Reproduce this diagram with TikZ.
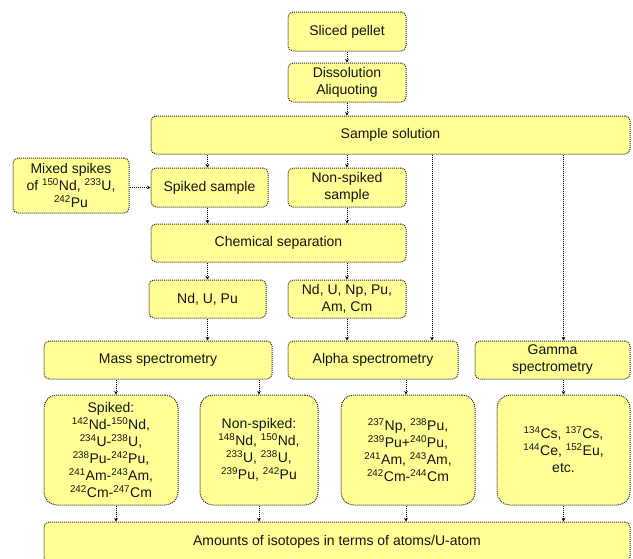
\documentclass[tikz,border=0pt]{standalone}
\usepackage{fontspec}
\setmainfont{Liberation Sans}
\usetikzlibrary{arrows.meta}
\definecolor{boxfill}{RGB}{255,255,150}
\definecolor{boxline}{RGB}{40,40,40}
\definecolor{txt}{RGB}{20,20,20}
\newcommand{\iso}[2]{\textsuperscript{#1}#2}
\tikzset{
  boxa/.style={draw=boxline, fill=boxfill, densely dotted, line width=1pt,
    rounded corners=5pt, inner sep=0pt, align=center, text=txt,
    font=\fontsize{14pt}{17pt}\selectfont},
  boxb/.style={boxa, rounded corners=13pt},
  conn/.style={draw=black, densely dotted, line width=1pt,
    -{Stealth[length=3.5pt,width=3.5pt]}},
}
\begin{document}
\begin{tikzpicture}[x=1pt,y=-1pt]
\useasboundingbox (0,0) rectangle (633,558);
\clip (0,0) rectangle (633,558);
\node[boxa, minimum width=118pt, minimum height=39pt] (pellet) at (347,31.5) {Sliced pellet};
\node[boxa, minimum width=118pt, minimum height=39pt] (dissol) at (347,82.5) {Dissolution\\Aliquoting};
\node[boxa, minimum width=479pt, minimum height=38pt] (sample) at (390.5,135) {Sample solution};
\node[boxa, minimum width=116pt, minimum height=55pt] (mixed) at (71,185.5) {Mixed spikes\\of \iso{150}{Nd}, \iso{233}{U},\\\iso{242}{Pu}};
\node[boxa, minimum width=117pt, minimum height=39pt] (spiked) at (209.5,187.5) {Spiked sample};
\node[boxa, minimum width=118pt, minimum height=39pt] (nonspiked) at (347,187.5) {Non-spiked\\sample};
\node[boxa, minimum width=255pt, minimum height=38pt] (chemsep) at (278.5,243) {Chemical separation};
\node[boxa, minimum width=117pt, minimum height=38pt] (ndupu) at (207.5,299) {Nd, U, Pu};
\node[boxa, minimum width=118pt, minimum height=38pt] (ndunp) at (347,299) {Nd, U, Np, Pu,\\Am, Cm};
\node[boxa, minimum width=228pt, minimum height=38pt] (mass) at (158,360) {Mass spectrometry};
\node[boxa, minimum width=170pt, minimum height=38pt] (alpha) at (373,360) {Alpha spectrometry};
\node[boxa, minimum width=155pt, minimum height=38pt] (gamma) at (552.5,360) {Gamma\\spectrometry};
\node[boxb, minimum width=134pt, minimum height=110pt] (bspiked) at (111,450) {Spiked:\\\iso{142}{Nd}-\iso{150}{Nd},\\\iso{234}{U}-\iso{238}{U},\\\iso{238}{Pu}-\iso{242}{Pu},\\\iso{241}{Am}-\iso{243}{Am},\\\iso{242}{Cm}-\iso{247}{Cm}};
\node[boxb, minimum width=118pt, minimum height=110pt] (bnon) at (259,450) {Non-spiked:\\\iso{148}{Nd}, \iso{150}{Nd},\\\iso{233}{U}, \iso{238}{U},\\\iso{239}{Pu}, \iso{242}{Pu}};
\node[boxb, minimum width=134pt, minimum height=110pt] (balpha) at (408,450) {\iso{237}{Np}, \iso{238}{Pu},\\\iso{239}{Pu}+\iso{240}{Pu},\\\iso{241}{Am}, \iso{243}{Am},\\\iso{242}{Cm}-\iso{244}{Cm}};
\node[boxb, minimum width=133pt, minimum height=110pt] (bgamma) at (563.5,450) {\iso{134}{Cs}, \iso{137}{Cs},\\\iso{144}{Ce}, \iso{152}{Eu},\\etc.};
\node[boxa, minimum width=586pt, minimum height=40pt] (amounts) at (337,542) {Amounts of isotopes in terms of atoms/U-atom};
% connectors
\draw[conn] (pellet.south) -- (dissol.north);
\draw[conn] (dissol.south) -- (dissol.south |- sample.north);
\draw[conn] ([xshift=-2pt]spiked.north |- sample.south) -- ([xshift=-2pt]spiked.north);
\draw[conn] (nonspiked.north |- sample.south) -- (nonspiked.north);
\draw[conn] ([xshift=59pt]alpha.north |- sample.south) -- ([xshift=59pt]alpha.north);
\draw[conn] (bgamma.north |- sample.south) -- (bgamma.north |- gamma.north);
\draw[conn] (mixed.east |- spiked.west) -- (spiked.west);
\draw[conn] ([xshift=-2pt]spiked.south) -- ([xshift=-2pt]spiked.south |- chemsep.north);
\draw[conn] (nonspiked.south) -- (nonspiked.south |- chemsep.north);
\draw[conn] (ndupu.north |- chemsep.south) -- (ndupu.north);
\draw[conn] (ndunp.north |- chemsep.south) -- (ndunp.north);
\draw[conn] (ndupu.south) -- (ndupu.south |- mass.north);
\draw[conn] (ndunp.south) -- (ndunp.south |- alpha.north);
\draw[conn] ([xshift=5pt]bspiked.north |- mass.south) -- ([xshift=5pt]bspiked.north);
\draw[conn] (bnon.north |- mass.south) -- (bnon.north);
\draw[conn] ([xshift=-2pt]balpha.north |- alpha.south) -- ([xshift=-2pt]balpha.north);
\draw[conn] (bgamma.north |- gamma.south) -- (bgamma.north);
\draw[conn] ([xshift=5pt]bspiked.south) -- ([xshift=5pt]bspiked.south |- amounts.north);
\draw[conn] (bnon.south) -- (bnon.south |- amounts.north);
\draw[conn] ([xshift=-2pt]balpha.south) -- ([xshift=-2pt]balpha.south |- amounts.north);
\draw[conn] (bgamma.south) -- (bgamma.south |- amounts.north);
\end{tikzpicture}
\end{document}
